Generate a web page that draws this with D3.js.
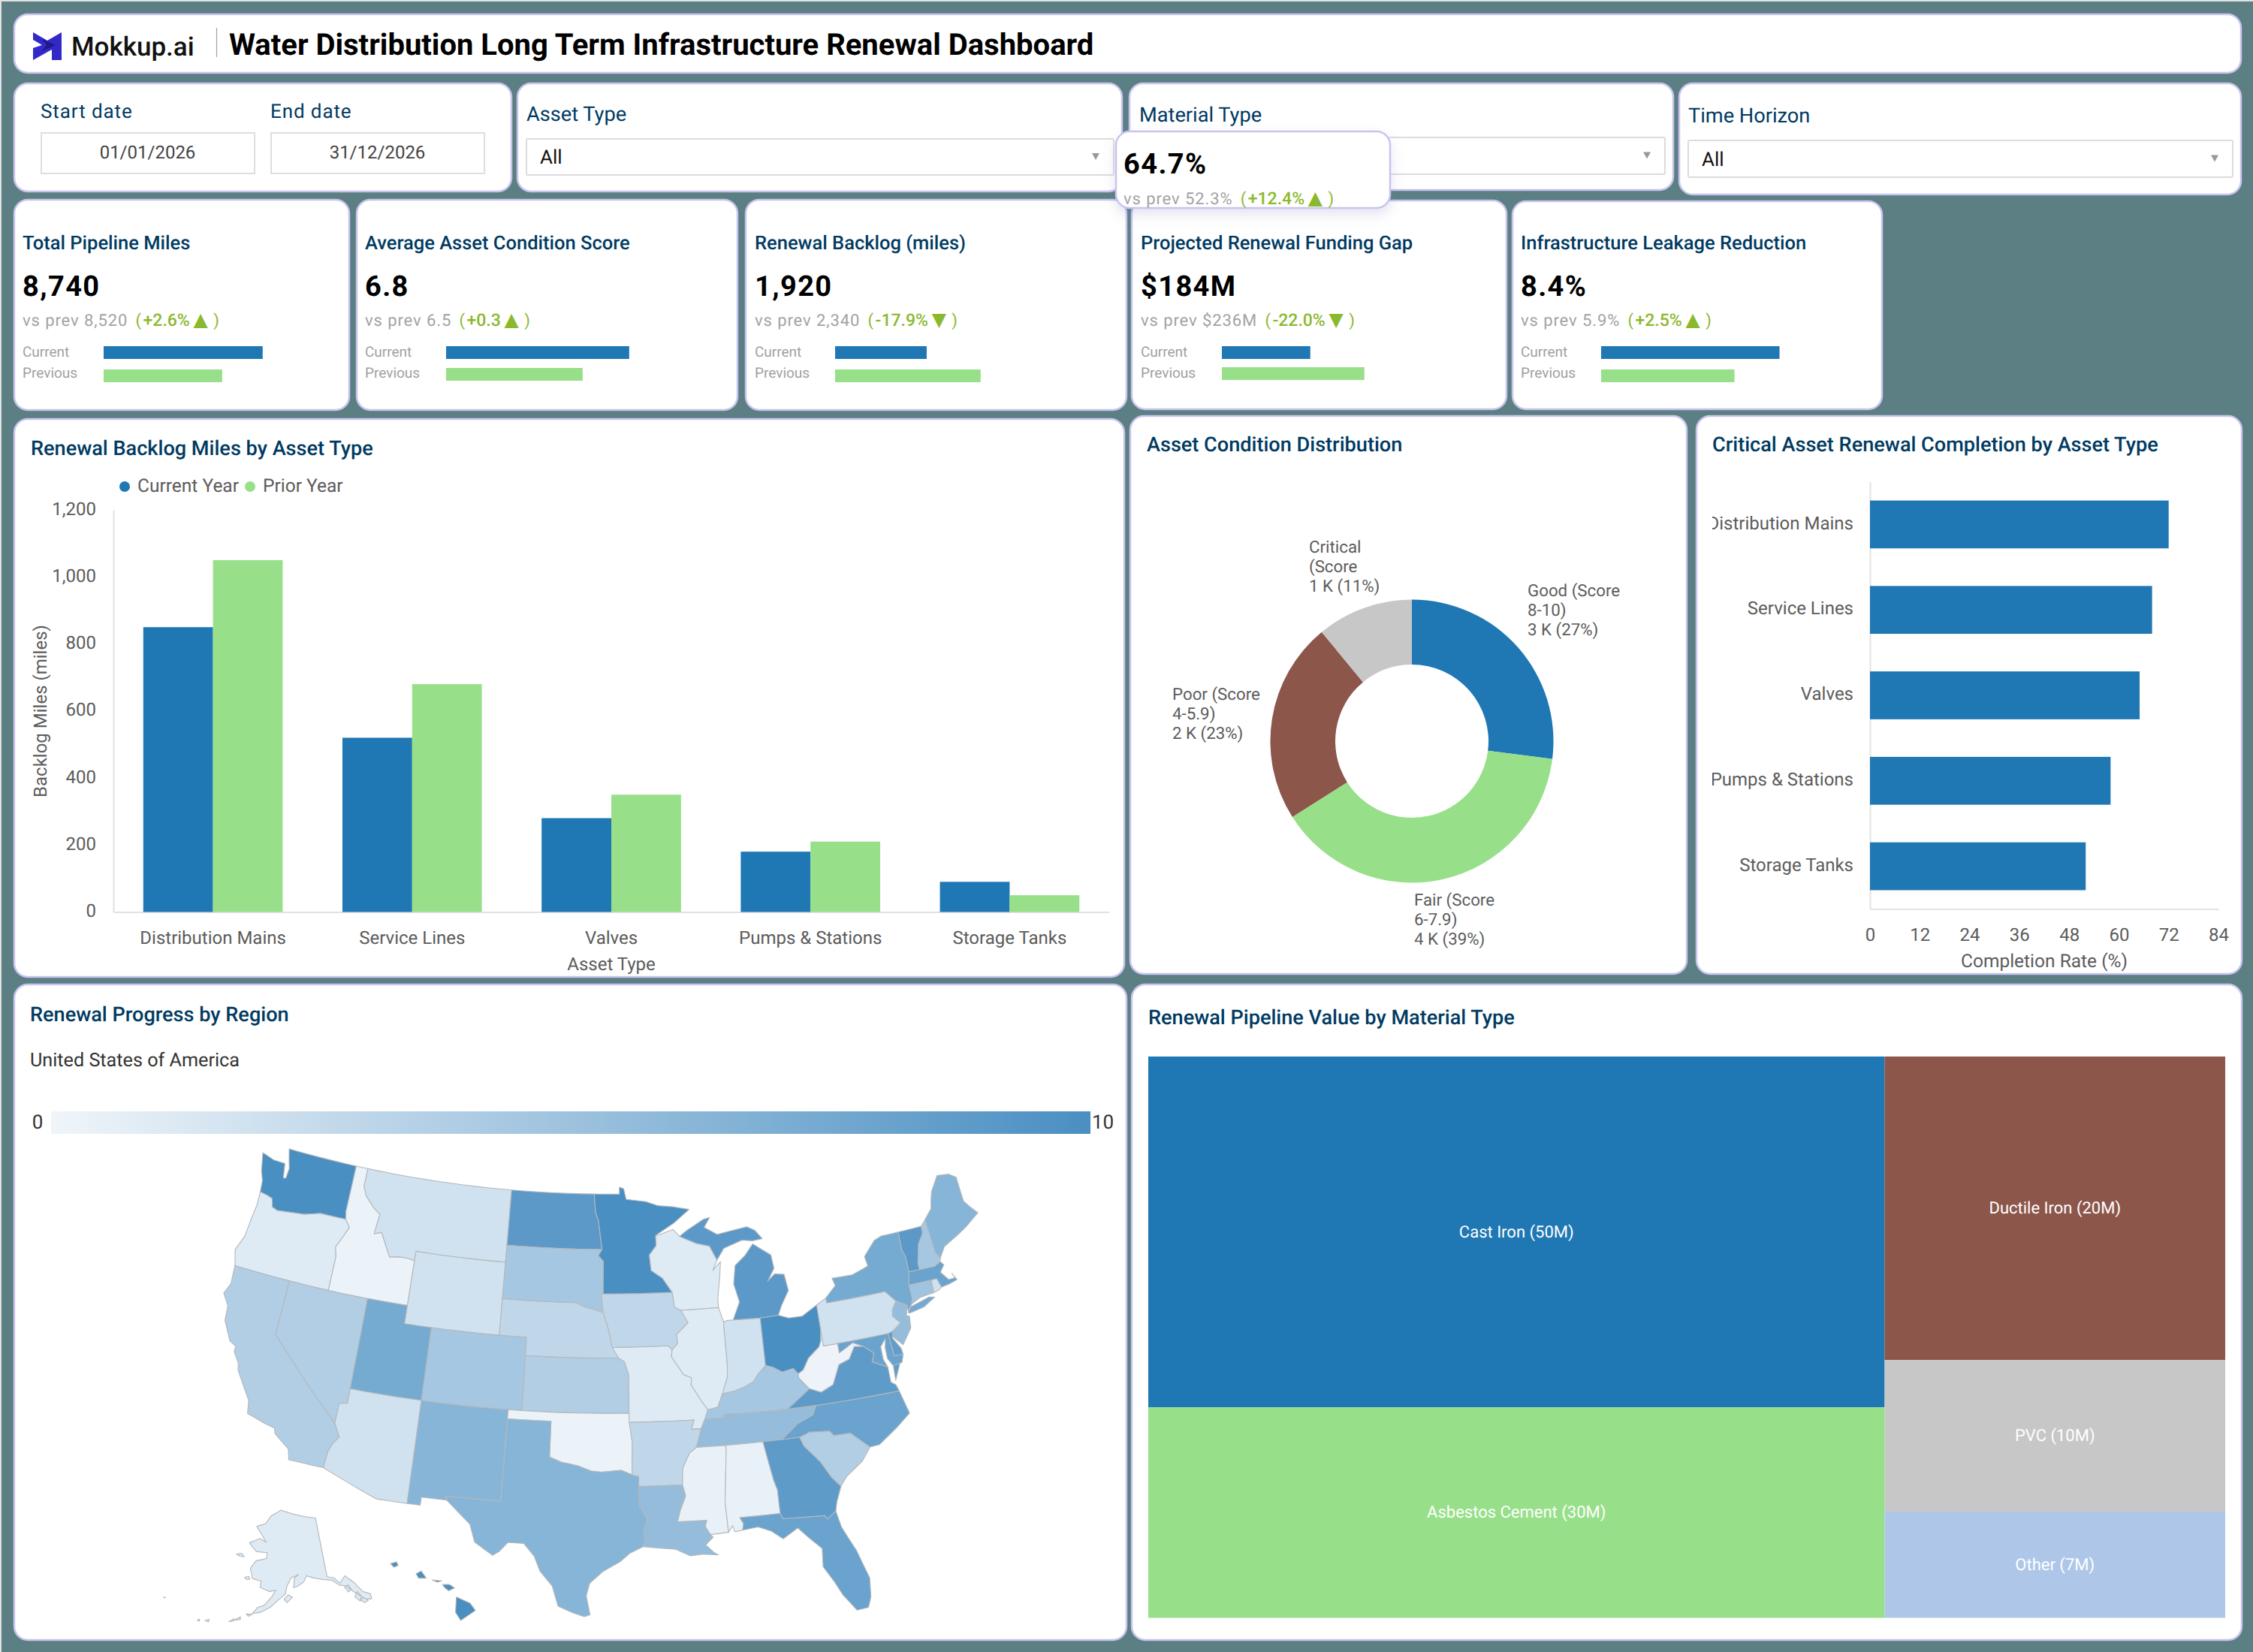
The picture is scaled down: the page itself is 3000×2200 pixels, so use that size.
<!DOCTYPE html>
<html>
<head>
<meta charset="utf-8">
<title>Water Distribution Long Term Infrastructure Renewal Dashboard</title>
<script src="https://cdn.jsdelivr.net/npm/d3@7/dist/d3.min.js"></script>
<style>
  html, body { margin: 0; padding: 0; background: #dfe3e3; }
  svg { display: block; }
  text { font-family: Roboto, sans-serif; text-rendering: geometricPrecision; }
</style>
</head>
<body>
<div id="chart"></div>
<script>
// ---- KPI values ----
const kpiTitles = ["Total Pipeline Miles", "Average Asset Condition Score", "Renewal Backlog (miles)", "Projected Renewal Funding Gap", "Infrastructure Leakage Reduction"];
const kpiCurrent = [8740, 6.8, 1920, 184, 8.4];
const kpiPrevious = [8520, 6.5, 2340, 236, 5.9];
const kpiCurrentText = ["8,740", "6.8", "1,920", "$184M", "8.4%"];
const kpiPreviousText = ["8,520", "6.5", "2,340", "$236M", "5.9%"];
const kpiDelta = ["+2.6%", "+0.3", "-17.9%", "-22.0%", "+2.5%"];
const kpiArrow = ["▲", "▲", "▼", "▼", "▲"];
// each bullet has its own truncated value axis
const kpiAxisMin = [7876, 5.62, 1207, 99, -1.5];
const kpiAxisMax = [8896, 6.83, 2669, 279.5, 8.92];

// ---- Critical completion popover ----
const popValue = "64.7%";
const popPrevious = "52.3%";
const popDelta = "+12.4%";

// ---- Renewal backlog by asset type ----
const assetTypes = ["Distribution Mains", "Service Lines", "Valves", "Pumps & Stations", "Storage Tanks"];
const backlogCurrent = [850, 520, 280, 180, 90];
const backlogPrior = [1050, 680, 350, 210, 50];
const backlogTicks = [0, 200, 400, 600, 800, 1000, 1200];

// ---- Condition distribution ----
const conditionNames = ["Good (Score", "Fair (Score", "Poor (Score", "Critical"];
const conditionSecond = ["8-10)", "6-7.9)", "4-5.9)", "(Score"];
const conditionShare = [27, 39, 23, 11];
const conditionAmount = ["3 K", "4 K", "2 K", "1 K"];

// ---- Completion by asset type ----
const completionRate = [72, 68, 65, 58, 52];
const completionTicks = [0, 12, 24, 36, 48, 60, 72, 84];

// ---- Pipeline value by material ----
const materials = ["Cast Iron", "Asbestos Cement", "Ductile Iron", "PVC", "Other"];
const materialValue = [50, 30, 20, 10, 7];
const materialColumn = [0, 0, 1, 1, 1];

// ---- Renewal progress per state (0-10 scale) ----
const stateCodes = ["WA","OR","CA","NV","ID","MT","WY","UT","AZ","CO","NM","ND","SD","NE","KS","OK","TX","MN","IA","MO","AR","LA","WI","IL","IN","MI","OH","KY","TN","MS","AL","GA","FL","SC","NC","VA","WV","PA","NY","NJ","DE","MD","CT","RI","MA","VT","NH","ME","AK","HI"];
const stateProgress = [10,1.1,3.8,3.8,0.3,1.9,1.9,7.4,1.9,4.5,6.3,9.0,4.5,2.9,3.8,0.3,6.3,10,2.9,1.1,2.9,5.5,1.1,1.1,1.9,9.0,10,4.5,5.5,0.4,0.4,8.8,8.0,3.8,8.0,8.8,0.2,1.9,7.4,5.5,8.5,8.0,4.8,1.9,8.0,9.0,4.5,6.3,1.1,10];

// State outlines as [longitude, latitude] rings
const stateOutlines = {
  WA: [[[-124.73,48.38],[-123.7,48.17],[-122.75,48.15],[-122.55,47.35],[-122.35,47.4],[-122.3,47.95],[-122.5,48.4],[-122.75,49],[-117.03,49],[-117.04,46.42],[-116.92,46],[-118.98,46],[-119.3,45.93],[-120.2,45.73],[-121.2,45.65],[-122.3,45.55],[-122.75,45.65],[-122.95,46.1],[-123.4,46.2],[-124,46.27],[-124.1,46.9],[-124.4,47.4]]],
  OR: [[[-124,46.27],[-123.4,46.2],[-122.95,46.1],[-122.75,45.65],[-122.3,45.55],[-121.2,45.65],[-120.2,45.73],[-119.3,45.93],[-118.98,46],[-116.92,46],[-116.5,45.6],[-116.85,45],[-117.22,44.4],[-117.03,43.9],[-117.03,42],[-124.21,42],[-124.4,42.5],[-124.55,42.84],[-124.15,43.7],[-124.05,44.8],[-123.95,45.5]]],
  CA: [[[-124.21,42],[-120,42],[-120,39],[-114.63,35],[-114.15,34.3],[-114.5,33.9],[-114.72,33.4],[-114.8,32.5],[-117.12,32.53],[-117.3,33.1],[-118.4,33.75],[-118.5,34.03],[-119.2,34.15],[-120.5,34.45],[-120.65,35.15],[-121.9,36.6],[-122,36.95],[-122.5,37.5],[-122.5,37.8],[-123,38],[-123.75,39],[-123.85,39.8],[-124.4,40.4],[-124.1,41]]],
  NV: [[[-120,42],[-114.05,42],[-114.05,36.2],[-114.6,36.1],[-114.63,35],[-120,39]]],
  ID: [[[-117.03,49],[-116.05,49],[-116.05,48],[-115.72,47.5],[-114.95,46.95],[-114.35,46.65],[-114.5,45.55],[-113.95,45.7],[-113.45,45.05],[-113,44.45],[-112.3,44.55],[-111.5,44.55],[-111.05,44.47],[-111.05,42],[-117.03,42],[-117.03,43.9],[-117.22,44.4],[-116.85,45],[-116.5,45.6],[-116.92,46],[-117.04,46.42]]],
  MT: [[[-116.05,49],[-104.05,49],[-104.05,45],[-111.05,45],[-111.05,44.47],[-111.5,44.55],[-112.3,44.55],[-113,44.45],[-113.45,45.05],[-113.95,45.7],[-114.5,45.55],[-114.35,46.65],[-114.95,46.95],[-115.72,47.5],[-116.05,48]]],
  WY: [[[-111.05,45],[-104.05,45],[-104.05,41],[-111.05,41]]],
  UT: [[[-114.05,42],[-111.05,42],[-111.05,41],[-109.05,41],[-109.05,37],[-114.05,37]]],
  AZ: [[[-114.05,37],[-109.05,37],[-109.05,31.33],[-111.07,31.33],[-114.8,32.5],[-114.72,33.4],[-114.5,33.9],[-114.15,34.3],[-114.63,35],[-114.6,36.1],[-114.05,36.2]]],
  CO: [[[-109.05,41],[-102.05,41],[-102.05,37],[-109.05,37]]],
  NM: [[[-109.05,37],[-103,37],[-103.05,32],[-106.62,32],[-106.53,31.78],[-108.2,31.78],[-108.2,31.33],[-109.05,31.33]]],
  ND: [[[-104.05,49],[-97.23,49],[-97.1,48],[-96.85,47.5],[-96.56,45.94],[-104.05,45.94]]],
  SD: [[[-104.05,45.94],[-96.56,45.94],[-96.85,45.6],[-96.45,45.3],[-96.45,43.5],[-96.6,43.5],[-96.45,42.5],[-97.9,42.8],[-98.5,43],[-104.05,43]]],
  NE: [[[-104.05,43],[-98.5,43],[-97.9,42.8],[-96.45,42.5],[-96.1,41.7],[-95.88,41],[-95.31,40],[-102.05,40],[-102.05,41],[-104.05,41]]],
  KS: [[[-102.05,40],[-95.31,40],[-94.9,39.8],[-94.61,39.1],[-94.62,37],[-102.04,37]]],
  OK: [[[-103,37],[-94.62,37],[-94.43,35.4],[-94.48,33.64],[-95.2,33.9],[-96.5,33.8],[-97.2,33.85],[-98.1,34.13],[-99.2,34.3],[-100,34.56],[-100,36.5],[-103,36.5]]],
  TX: [[[-103,36.5],[-100,36.5],[-100,34.56],[-99.2,34.3],[-98.1,34.13],[-97.2,33.85],[-96.5,33.8],[-95.2,33.9],[-94.48,33.64],[-94.04,33.55],[-94.04,33],[-94.04,31.99],[-93.55,31.2],[-93.8,30.5],[-93.7,30.1],[-93.85,29.7],[-94.7,29.35],[-95.3,28.9],[-96.4,28.35],[-97.2,27.7],[-97.4,27],[-97.15,25.96],[-97.5,25.85],[-98.2,26.06],[-99.1,26.4],[-99.5,27.5],[-100.3,28.3],[-100.7,29.1],[-101.4,29.77],[-102.4,29.77],[-102.9,29.25],[-103.3,29],[-104.5,29.65],[-104.9,30.6],[-106.53,31.78],[-106.62,32],[-103.05,32]]],
  MN: [[[-97.23,49],[-95.15,49],[-95.15,49.38],[-94.8,49.3],[-94.6,48.7],[-93,48.55],[-92,48.3],[-90.8,48.2],[-89.5,48],[-90.8,47.3],[-92.1,46.75],[-92.29,46.66],[-92.29,46.1],[-92.85,45.6],[-92.75,44.75],[-91.9,44.3],[-91.2,43.5],[-96.45,43.5],[-96.45,45.3],[-96.85,45.6],[-96.56,45.94],[-96.85,47.5],[-97.1,48]]],
  IA: [[[-96.6,43.5],[-91.2,43.5],[-91.1,42.7],[-90.64,42.5],[-90.15,41.8],[-91.05,41.2],[-91,40.7],[-91.42,40.38],[-91.72,40.6],[-95.77,40.58],[-95.88,41],[-96.1,41.7],[-96.45,42.5]]],
  MO: [[[-95.77,40.58],[-91.72,40.6],[-91.42,40.38],[-91.5,40],[-90.7,39],[-90.15,38.8],[-90.2,38.4],[-89.55,37.5],[-89.15,37],[-89.4,36.5],[-89.7,36],[-90.37,36],[-90.15,36.5],[-94.62,36.5],[-94.62,37],[-94.61,39.1],[-94.9,39.8],[-95.31,40]]],
  AR: [[[-94.62,36.5],[-90.15,36.5],[-90.37,36],[-89.7,36],[-90.1,35],[-90.6,34.7],[-91.1,33.9],[-91.17,33],[-94.04,33],[-94.04,33.55],[-94.48,33.64],[-94.43,35.4]]],
  LA: [[[-94.04,33],[-91.17,33],[-91,32.4],[-91.4,31.6],[-91.6,31],[-89.73,31],[-89.85,30.65],[-89.55,30.2],[-89.4,30.05],[-89.9,29.65],[-89.4,29.2],[-89.15,29.05],[-90.1,29.15],[-90.9,29.1],[-91.8,29.5],[-92.3,29.55],[-93.85,29.7],[-93.7,30.1],[-93.8,30.5],[-93.55,31.2],[-94.04,31.99]]],
  WI: [[[-92.29,46.66],[-92,46.7],[-90.9,46.95],[-90.4,46.55],[-89.1,46.1],[-88.1,45.9],[-87.6,45.1],[-88,44.55],[-87.35,45],[-87.5,44.2],[-87.8,43],[-87.8,42.5],[-90.64,42.5],[-91.1,42.7],[-91.2,43.5],[-91.9,44.3],[-92.75,44.75],[-92.85,45.6],[-92.29,46.1]]],
  IL: [[[-90.64,42.5],[-87.8,42.5],[-87.53,41.7],[-87.53,39.35],[-87.6,38.7],[-88.05,37.8],[-88.45,37.1],[-89.15,37],[-89.55,37.5],[-90.2,38.4],[-90.15,38.8],[-90.7,39],[-91.5,40],[-91.42,40.38],[-91,40.7],[-91.05,41.2],[-90.15,41.8]]],
  IN: [[[-87.53,41.7],[-87.2,41.76],[-86.8,41.76],[-84.8,41.7],[-84.82,39.1],[-85.4,38.7],[-85.8,38.3],[-86.5,38.05],[-87.2,37.9],[-88.05,37.8],[-87.6,38.7],[-87.53,39.35]]],
  MI: [[[-90.4,46.55],[-89.8,46.85],[-88.4,47.4],[-87.9,47.47],[-88.4,46.95],[-87.4,46.5],[-86.1,46.65],[-85,46.75],[-84.4,46.5],[-83.9,46],[-84.7,45.95],[-85.5,46.05],[-86.4,45.85],[-87,45.7],[-87.6,45.1],[-88.1,45.9],[-89.1,46.1]],
       [[-86.8,41.76],[-84.8,41.7],[-83.45,41.73],[-83.1,42.25],[-82.45,43],[-82.6,43.9],[-83.3,44],[-83.9,43.65],[-83.3,44.3],[-83.4,45.05],[-84.7,45.78],[-85.4,45.2],[-86.25,44.7],[-86.5,43.7],[-86.2,42.7]]],
  OH: [[[-84.8,41.7],[-83.45,41.73],[-82.7,41.5],[-81.7,41.5],[-80.52,41.98],[-80.52,40.64],[-80.65,40],[-80.85,39.7],[-81.7,39.2],[-82.2,38.6],[-82.6,38.42],[-82.9,38.75],[-83.7,38.63],[-84.3,38.95],[-84.82,39.1]]],
  KY: [[[-89.15,37],[-88.45,37.1],[-88.05,37.8],[-87.2,37.9],[-86.5,38.05],[-85.8,38.3],[-85.4,38.7],[-84.82,39.1],[-84.3,38.95],[-83.7,38.63],[-82.9,38.75],[-82.6,38.42],[-82.6,38.2],[-81.97,37.54],[-83.67,36.6],[-88.05,36.68],[-88.07,36.5],[-89.4,36.5]]],
  TN: [[[-89.4,36.5],[-88.07,36.5],[-88.05,36.68],[-83.67,36.6],[-81.68,36.59],[-82,36.1],[-83.1,35.75],[-84.3,35],[-85.6,35],[-88.2,35],[-90.1,35],[-89.7,36]]],
  MS: [[[-90.1,35],[-88.2,35],[-88.1,34.9],[-88.47,31.9],[-88.4,30.25],[-89.55,30.2],[-89.85,30.65],[-89.73,31],[-91.6,31],[-91.4,31.6],[-91,32.4],[-91.17,33],[-91.1,33.9],[-90.6,34.7]]],
  AL: [[[-88.2,35],[-85.6,35],[-85.18,32.87],[-85,32.3],[-85,31],[-87.6,31],[-87.4,30.65],[-87.5,30.3],[-88,30.25],[-88.1,30.6],[-88.4,30.25],[-88.47,31.9],[-88.1,34.9]]],
  GA: [[[-85.6,35],[-84.3,35],[-83.1,35],[-82.9,34.5],[-81.95,33.5],[-81.4,32.6],[-80.87,32.03],[-81.3,31.2],[-81.45,30.72],[-82.05,30.36],[-82.2,30.57],[-84.86,30.7],[-85,31],[-85,32.3],[-85.18,32.87]]],
  FL: [[[-87.6,31],[-85,31],[-84.86,30.7],[-82.2,30.57],[-82.05,30.36],[-81.45,30.72],[-81.25,29.8],[-80.55,28.4],[-80.03,26.8],[-80.15,25.75],[-80.4,25.2],[-81.1,25.15],[-81.8,26.1],[-82.2,26.9],[-82.75,27.8],[-82.65,28.8],[-83.4,29.5],[-84,30.1],[-85,29.6],[-85.7,30.1],[-86.5,30.4],[-87.5,30.3],[-87.4,30.65]]],
  SC: [[[-83.1,35],[-82.4,35.2],[-81.05,35.1],[-80.8,34.82],[-79.68,34.8],[-78.55,33.86],[-79.2,33.2],[-80.4,32.5],[-80.87,32.03],[-81.4,32.6],[-81.95,33.5],[-82.9,34.5]]],
  NC: [[[-81.68,36.59],[-75.87,36.55],[-75.5,35.25],[-76.5,34.65],[-77.9,33.9],[-78.55,33.86],[-79.68,34.8],[-80.8,34.82],[-81.05,35.1],[-82.4,35.2],[-83.1,35],[-84.3,35],[-83.1,35.75],[-82,36.1]]],
  VA: [[[-83.67,36.6],[-81.97,37.54],[-81.2,37.25],[-80.3,37.55],[-79.65,38.58],[-78.87,38.77],[-78.35,39.4],[-77.73,39.32],[-77.05,38.85],[-77.3,38.4],[-76.3,37.95],[-76.3,37.1],[-76,36.92],[-75.87,36.55],[-81.68,36.59]],
       [[-75.9,37.95],[-75.4,38.03],[-75.95,37.15]]],
  WV: [[[-80.52,40.64],[-80.52,39.72],[-79.48,39.72],[-79.48,39.2],[-78.4,39.62],[-77.73,39.32],[-78.35,39.4],[-78.87,38.77],[-79.65,38.58],[-80.3,37.55],[-81.2,37.25],[-81.97,37.54],[-82.6,38.2],[-82.6,38.42],[-82.2,38.6],[-81.7,39.2],[-80.85,39.7],[-80.65,40]]],
  PA: [[[-80.52,41.98],[-79.76,42.27],[-79.76,42],[-75.35,42],[-74.7,41.36],[-75.1,40.95],[-75.2,40.6],[-74.72,40.15],[-75.4,39.8],[-75.79,39.72],[-80.52,39.72],[-80.52,40.64]]],
  NY: [[[-79.76,42.27],[-78.9,42.85],[-79.05,43.27],[-77.5,43.25],[-76.2,43.55],[-76.3,44.1],[-75.3,44.85],[-74.7,45],[-73.35,45],[-73.4,44],[-73.25,43.6],[-73.27,42.75],[-73.5,42.05],[-73.5,41.3],[-73.65,41],[-74,40.7],[-74,41],[-74.7,41.36],[-75.35,42],[-79.76,42]],
       [[-74.03,40.6],[-73.75,40.87],[-72.3,41.15],[-71.87,41.07],[-72.8,40.7],[-73.9,40.55]]],
  NJ: [[[-74.7,41.36],[-74,41],[-74.2,40.45],[-74,40.4],[-74.1,39.75],[-74.9,38.95],[-75.5,39.5],[-75.4,39.8],[-74.72,40.15],[-75.2,40.6],[-75.1,40.95]]],
  DE: [[[-75.79,39.72],[-75.4,39.8],[-75.55,39.45],[-75.1,38.8],[-75.05,38.45],[-75.7,38.46]]],
  MD: [[[-79.48,39.72],[-75.79,39.72],[-75.7,38.46],[-75.05,38.45],[-75.25,38.03],[-75.9,37.95],[-76.2,38.4],[-76.2,39],[-76.05,39.5],[-76.5,39.1],[-76.5,38.4],[-76.3,37.95],[-77.3,38.4],[-77.05,38.85],[-77.73,39.32],[-78.4,39.62],[-79.48,39.2]]],
  CT: [[[-73.5,42.05],[-71.8,42.02],[-71.86,41.32],[-72.9,41.25],[-73.65,41],[-73.5,41.3]]],
  RI: [[[-71.8,42.02],[-71.38,42.02],[-71.2,41.5],[-71.5,41.37],[-71.86,41.32]]],
  MA: [[[-73.5,42.05],[-73.27,42.75],[-71.3,42.7],[-70.82,42.87],[-70.6,42.65],[-71,42.3],[-70.55,41.8],[-70.05,41.8],[-70.2,42.07],[-69.95,41.67],[-70.65,41.55],[-71.2,41.5],[-71.38,42.02],[-71.8,42.02]]],
  VT: [[[-73.35,45],[-71.5,45],[-71.55,44.6],[-72.05,44.1],[-72.45,43.1],[-72.46,42.73],[-73.27,42.75],[-73.25,43.6],[-73.4,44]]],
  NH: [[[-71.5,45],[-71.08,45.3],[-70.98,43.4],[-70.7,43.07],[-70.82,42.87],[-71.3,42.7],[-72.46,42.73],[-72.45,43.1],[-72.05,44.1],[-71.55,44.6]]],
  ME: [[[-71.08,45.3],[-70.4,45.8],[-70.25,46.2],[-70,46.7],[-69.23,47.46],[-68.3,47.35],[-67.8,47.07],[-67.8,45.7],[-67.45,45.3],[-67,44.85],[-68.2,44.3],[-69,44],[-70.2,43.6],[-70.7,43.07],[-70.98,43.4]]],
  AK: [[[-141,69.65],[-141,60.3],[-139,59.9],[-137.5,58.9],[-135.5,59.8],[-133.4,58.4],[-131.8,56.6],[-130,55.9],[-130.15,55.05],[-131.5,55.3],[-133.2,56.3],[-134.7,57.3],[-136,58.2],[-137.8,58.6],[-139.7,59.6],[-142.5,60],[-145,60.4],[-147.5,60.9],[-148.5,60],[-150.5,59.4],[-151.8,59.2],[-151.4,60.7],[-150,61.2],[-152.5,60.7],[-153.8,59.5],[-154.3,58.2],[-156.5,57.2],[-158.5,56.1],[-161,55.2],[-163.3,54.8],[-162,55.9],[-160.3,56.3],[-158.2,57.8],[-157.2,58.8],[-159,58.5],[-162,59],[-162,60],[-164.8,60.2],[-165.4,61],[-166,61.7],[-164.6,63],[-161,63.6],[-161,64.5],[-165,64.45],[-168.1,65.6],[-164.3,66.55],[-161.8,66.1],[-163.7,67.1],[-166.5,68.35],[-163,69],[-161,70.3],[-156.6,71.35],[-152,70.85],[-148,70.4]],
       [[-154.7,57.4],[-153.4,58.1],[-152.2,57.7],[-153.8,56.9]],
       [[-167.3,60.2],[-166,60.4],[-165.6,60],[-166.7,59.9]],
       [[-171.7,63.4],[-170,63.7],[-168.8,63.3],[-170.3,63.2]],
       [[-136.5,58.1],[-135.3,58.3],[-134.8,57.5],[-135.7,57.2]],
       [[-134.4,56.2],[-133.3,56.9],[-132.6,56],[-133.3,55.3]],
       [[-133.2,55.6],[-132,55.6],[-131.2,55],[-132.4,54.9]],
       [[-164.9,54.6],[-163.3,54.7],[-164.2,54.3]],
       [[-167.8,53.3],[-166.3,54],[-166.2,53.6]],
       [[-169,52.9],[-167.9,53.5],[-168,53.1]],
       [[-175,52.1],[-174,52.4],[-174.1,52]],
       [[-176.9,51.7],[-176.4,52],[-176.3,51.7]],
       [[172.9,52.9],[173.4,52.95],[173.2,52.8]]],
  HI: [[[-155.9,20.25],[-155.1,19.9],[-154.8,19.5],[-155.65,18.95],[-155.95,19.4]],
       [[-156.7,20.95],[-156.3,20.95],[-156,20.75],[-156.35,20.6],[-156.6,20.8]],
       [[-157.3,21.2],[-156.75,21.15],[-157,21.08]],
       [[-158.25,21.55],[-157.95,21.7],[-157.65,21.3],[-158.1,21.3]],
       [[-159.75,22.1],[-159.4,22.2],[-159.3,22],[-159.55,21.9]]]
};

// ---- palette ----
const BLUE = "#1f77b4", GREEN = "#98df8a", BROWN = "#8c564b", GREY = "#c7c7c7", PALE = "#aec7e8";
const NAVY = "#003a62", AXIS_TEXT = "#5c5c5c", UP_GREEN = "#8bb92d";
const conditionColors = [BLUE, GREEN, BROWN, GREY];
const materialColors = [BLUE, GREEN, BROWN, GREY, PALE];

const svg = d3.select("#chart").append("svg").attr("width", 3000).attr("height", 2200);
const defs = svg.append("defs");

function label(parent, x, y, str, opts = {}) {
  return parent.append("text").attr("x", x).attr("y", y).text(str)
    .attr("font-size", opts.size || 24)
    .attr("font-family", opts.family || null)
    .attr("font-weight", opts.weight || 400)
    .attr("fill", opts.color || AXIS_TEXT)
    .attr("text-anchor", opts.anchor || "start")
    .attr("letter-spacing", opts.spacing || null);
}
function card(x0, y0, x1, y1) {
  return svg.append("rect").attr("x", x0).attr("y", y0).attr("width", x1 - x0).attr("height", y1 - y0)
    .attr("rx", 18).attr("fill", "#fff").attr("stroke", "#c8c4ef").attr("stroke-width", 2.5);
}
function heading(x, y, str) {
  label(svg, x, y, str, { size: 27.1, weight: 500, color: NAVY });
}

// page background
svg.append("rect").attr("x", 2).attr("y", 2).attr("width", 2998).attr("height", 2198).attr("fill", "#5b7f82");

// ---- header ----
card(19, 19, 2984, 97);
svg.append("path").attr("fill", "#3329c7")
  .attr("d", "M44,43 L63,54 L82,43 L82,80 L69,80 L69,66 L44,80 L44,64 L56,60 L44,53 Z");
svg.append("path").attr("fill", "#1f1a86").attr("d", "M56,52 L74,60 L56,68 L62,60 Z");
label(svg, 95, 74, "Mokkup.ai", { size: 35, weight: 500, family: "Inter", color: "#111" });
svg.append("line").attr("x1", 288.5).attr("x2", 288.5).attr("y1", 37).attr("y2", 76).attr("stroke", "#9aa3a8").attr("stroke-width", 1.2);
label(svg, 305, 73, "Water Distribution Long Term Infrastructure Renewal Dashboard", { size: 40, weight: 700, color: "#000" });

// ---- filters ----
function dropdown(x0, x1, y0, y1, str) {
  svg.append("rect").attr("x", x0).attr("y", y0).attr("width", x1 - x0).attr("height", y1 - y0)
    .attr("fill", "#fff").attr("stroke", "#dcdcdc").attr("stroke-width", 2).attr("rx", 2);
  if (str) label(svg, x0 + 18, y1 - 15, str, { size: 26, color: "#111" });
  const ax = x1 - 24, ay = (y0 + y1) / 2 - 1;
  svg.append("path").attr("d", `M${ax - 5},${ay - 4} L${ax + 5},${ay - 4} L${ax},${ay + 5} Z`).attr("fill", "#999");
}
function dateBox(x0, x1, str) {
  svg.append("rect").attr("x", x0 + 1).attr("y", 177).attr("width", x1 - x0 - 1).attr("height", 54)
    .attr("fill", "#fff").attr("stroke", "#dedede").attr("stroke-width", 2);
  label(svg, (x0 + x1) / 2, 211, str, { size: 24, color: "#444", anchor: "middle" });
}
card(19, 111, 681, 255);
label(svg, 54, 157, "Start date", { size: 26, color: NAVY, spacing: 0.9 });
label(svg, 360, 157, "End date", { size: 26, color: NAVY, spacing: 0.9 });
dateBox(54, 339, "01/01/2026");
dateBox(360, 645, "31/12/2026");

card(689, 111, 1494, 255);
label(svg, 701, 161, "Asset Type", { size: 27.2, color: NAVY });
dropdown(701, 1483, 185, 233, "All");

card(1504, 111, 2228, 253);
label(svg, 1517, 162, "Material Type", { size: 27.2, color: NAVY });
dropdown(1519, 2217, 183, 232, null);

card(2236, 111, 2984, 259);
label(svg, 2248, 163, "Time Horizon", { size: 27.2, color: NAVY });
dropdown(2248, 2973, 187, 236, "All");

// ---- KPI cards ----
const kpiFrames = [[19,266,465,546,30,138,492],[475,266,982,546,486,594,490],[993,266,1500,546,1005,1112,492],[1507,267,2006,545,1519,1627,489],[2014,268,2506,545,2025,2132,492]];
function comparison(x, y, previous, delta, arrow) {
  const t = svg.append("text").attr("x", x).attr("y", y).attr("font-size", 22);
  t.append("tspan").attr("fill", "#a3a3a3").attr("letter-spacing", 0.9).text(`vs prev ${previous} `);
  t.append("tspan").attr("fill", UP_GREEN).attr("dx", 4).text("( ");
  t.append("tspan").attr("fill", UP_GREEN).attr("font-weight", 500).attr("font-size", 23).attr("dx", -3).text(delta + " ");
  t.append("tspan").attr("fill", UP_GREEN).attr("dx", -1).attr("font-size", 25).attr("font-family", "'DejaVu Sans'").text(arrow);
  t.append("tspan").attr("fill", UP_GREEN).attr("dx", 2).text(" )");
}
kpiFrames.forEach((f, i) => {
  const [x0, y0, x1, y1, tx, bx, prevY] = f;
  card(x0, y0, x1, y1);
  label(svg, tx, 332, kpiTitles[i], { size: 25.5, weight: 500, color: NAVY });
  label(svg, tx, 394, kpiCurrentText[i], { size: 38, weight: 700, color: "#000", spacing: 1.4 });
  comparison(tx, 434, kpiPreviousText[i], kpiDelta[i], kpiArrow[i]);
  label(svg, tx, 475, "Current", { size: 19, color: "#a0a0a0" });
  label(svg, tx, 503, "Previous", { size: 19, color: "#a0a0a0" });
  const w = d3.scaleLinear().domain([kpiAxisMin[i], kpiAxisMax[i]]).range([0, 250]);
  svg.append("rect").attr("x", bx).attr("y", 461).attr("height", 17).attr("width", w(kpiCurrent[i])).attr("fill", BLUE);
  svg.append("rect").attr("x", bx).attr("y", prevY).attr("height", 17).attr("width", w(kpiPrevious[i])).attr("fill", GREEN);
});

// popover that sits over the filter row
defs.append("filter").attr("id", "soft").attr("x", "-10%").attr("y", "-10%").attr("width", "120%").attr("height", "140%")
  .append("feDropShadow").attr("dx", 0).attr("dy", 8).attr("stdDeviation", 8).attr("flood-color", "#8a86c8").attr("flood-opacity", 0.22);
card(1486, 175, 1851, 277).attr("filter", "url(#soft)");
label(svg, 1496, 231, popValue, { size: 38, weight: 700, color: "#000", spacing: 1.4 });
comparison(1496, 272, popPrevious, popDelta, "▲");

// ---- grouped bars: backlog ----
card(19, 558, 1497, 1301);
heading(41, 606, "Renewal Backlog Miles by Asset Type");
svg.append("circle").attr("cx", 166).attr("cy", 648).attr("r", 7).attr("fill", BLUE);
label(svg, 183, 655, "Current Year", { size: 24.5 });
svg.append("circle").attr("cx", 333).attr("cy", 648).attr("r", 7).attr("fill", GREEN);
label(svg, 350, 655, "Prior Year", { size: 24.5 });

const backX = d3.scaleBand().domain(assetTypes).range([151, 1477]).paddingInner(0.3).paddingOuter(0.15);
const backY = d3.scaleLinear().domain([0, 1200]).range([1214.5, 679]);
const backHalf = backX.bandwidth() / 2;

function styleAxis(g) {
  g.selectAll("text").attr("font-size", 24).attr("fill", AXIS_TEXT).attr("font-family", "Roboto");
  g.selectAll(".domain").attr("stroke", "#e2e2e2").attr("stroke-width", 2);
}
svg.append("g").attr("transform", "translate(151,0)")
  .call(d3.axisLeft(backY).tickValues(backlogTicks).tickSize(0).tickPadding(23).tickFormat(d3.format(",")))
  .call(styleAxis)
  .call(g => g.selectAll(".tick text").attr("y", -1.5));
svg.append("g").attr("transform", "translate(0,1214.5)")
  .call(d3.axisBottom(backX).tickSize(0).tickPadding(25))
  .call(styleAxis);
[[backlogCurrent, BLUE, 0], [backlogPrior, GREEN, backHalf]].forEach(([vals, color, off]) => {
  svg.append("g").selectAll("rect").data(vals).join("rect")
    .attr("x", (d, i) => backX(assetTypes[i]) + off)
    .attr("width", backHalf)
    .attr("y", d => backY(d))
    .attr("height", d => backY(0) - backY(d))
    .attr("fill", color);
});
label(svg, 814, 1292, "Asset Type", { size: 24, anchor: "middle" });
label(svg, 0, 0, "Backlog Miles (miles)", { size: 24, anchor: "middle" })
  .attr("transform", "translate(62,947) rotate(-90)");

// ---- donut: condition ----
card(1505, 554, 2246, 1297);
heading(1527, 601, "Asset Condition Distribution");
const arcs = d3.pie().sort(null)(conditionShare);
const arc = d3.arc().innerRadius(102).outerRadius(188.5);
svg.append("g").attr("transform", "translate(1880,987)")
  .selectAll("path").data(arcs).join("path")
  .attr("d", arc).attr("fill", (d, i) => conditionColors[i]);
const conditionSpots = [[2034, 794], [1883, 1206], [1561, 932], [1743, 736]];
conditionSpots.forEach(([x, y], i) => {
  const opts = { size: 22.3, family: "'Liberation Sans'" };
  label(svg, x, y, conditionNames[i], opts);
  label(svg, x, y + 26, conditionSecond[i], opts);
  label(svg, x, y + 52, `${conditionAmount[i]} (${conditionShare[i]}%)`, opts);
});

// ---- horizontal bars: completion ----
card(2259, 554, 2985, 1297);
heading(2280, 601, "Critical Asset Renewal Completion by Asset Type");
const doneX = d3.scaleLinear().domain([0, 84]).range([2490, 2954]);
const doneY = d3.scaleBand().domain(assetTypes).range([641.5, 1210.5]).paddingInner(0.44).paddingOuter(0.22);
// category labels are cut at the panel's text margin
defs.append("clipPath").attr("id", "labelClip").append("rect").attr("x", -210).attr("y", 630).attr("width", 220).attr("height", 600);
svg.append("g").attr("transform", "translate(2490,0)").attr("clip-path", "url(#labelClip)")
  .call(d3.axisLeft(doneY).tickSize(0).tickPadding(22))
  .call(styleAxis)
  .call(g => g.selectAll(".tick text").attr("y", -1.5));
svg.append("g").attr("transform", "translate(0,1210.5)")
  .call(d3.axisBottom(doneX).tickValues(completionTicks).tickSize(0).tickPadding(25))
  .call(styleAxis);
svg.selectAll("rect.done").data(completionRate).join("rect").attr("class", "done")
  .attr("x", doneX(0)).attr("y", (d, i) => doneY(assetTypes[i]))
  .attr("height", doneY.bandwidth()).attr("width", d => doneX(d) - doneX(0)).attr("fill", BLUE);
label(svg, 2722, 1288, "Completion Rate (%)", { size: 24.5, anchor: "middle" });

// ---- choropleth: renewal progress ----
card(19, 1311, 1500, 2184);
heading(40, 1360, "Renewal Progress by Region");
label(svg, 40, 1420, "United States of America", { size: 25.2, color: "#333" });

const shade = d3.scaleLinear().domain([0, 10]).range(["#f0f5fa", "#4a8fc2"]);
const legendStops = d3.range(0, 11);
const grad = defs.append("linearGradient").attr("id", "progressRamp");
grad.selectAll("stop").data(legendStops).join("stop")
  .attr("offset", d => `${d * 10}%`).attr("stop-color", d => shade(d));
svg.append("rect").attr("x", 68).attr("y", 1480).attr("width", 1384).attr("height", 30).attr("fill", "url(#progressRamp)");
label(svg, 50, 1503, "0", { size: 26, color: "#333", anchor: "middle" });
label(svg, 1454, 1503, "10", { size: 26, color: "#333" });

// Subdivide long edges so straight borders follow the conic curve
function densify(ring) {
  const out = [];
  ring.forEach((p, i) => {
    const q = ring[(i + 1) % ring.length];
    const n = Math.max(1, Math.ceil(Math.max(Math.abs(q[0] - p[0]), Math.abs(q[1] - p[1]))));
    for (let k = 0; k < n; k++) out.push([p[0] + (q[0] - p[0]) * k / n, p[1] + (q[1] - p[1]) * k / n]);
  });
  out.push(out[0]);
  return out;
}
// Conic projection stretched to fill a target box, one for each map part
function fittedTransform(base, codes, box) {
  const pts = codes.flatMap(c => stateOutlines[c].flatMap(r => densify(r).map(p => base(p))));
  const xs = d3.extent(pts, p => p[0]), ys = d3.extent(pts, p => p[1]);
  const sx = d3.scaleLinear().domain(xs).range([box[0], box[2]]);
  const sy = d3.scaleLinear().domain(ys).range([box[1], box[3]]);
  return d3.geoTransform({
    point(lon, lat) { const p = base([lon, lat]); this.stream.point(sx(p[0]), sy(p[1])); }
  });
}
const mainlandCodes = stateCodes.filter(c => c !== "AK" && c !== "HI");
const mainlandPath = d3.geoPath(fittedTransform(d3.geoAlbers().scale(1000).translate([0, 0]), mainlandCodes, [298, 1530, 1302, 2153]));
const alaskaPath = d3.geoPath(fittedTransform(d3.geoConicEqualArea().rotate([154, 0]).center([-2, 58.5]).parallels([55, 65]).scale(400).translate([0, 0]), ["AK"], [218, 2011, 495, 2160]));
const hawaiiPath = d3.geoPath(fittedTransform(d3.geoConicEqualArea().rotate([157, 0]).center([-3, 19.9]).parallels([8, 18]).scale(1000).translate([0, 0]), ["HI"], [520, 2080, 633, 2158]));
const pathFor = c => c === "AK" ? alaskaPath : c === "HI" ? hawaiiPath : mainlandPath;

// the map layer renders slightly soft
defs.append("filter").attr("id", "mapSoft").append("feGaussianBlur").attr("stdDeviation", 0.6);
svg.append("g").attr("filter", "url(#mapSoft)").selectAll("path").data(stateCodes).join("path")
  .attr("d", c => pathFor(c)({ type: "MultiPolygon", coordinates: stateOutlines[c].map(r => [densify(r)]) }))
  .attr("fill", (c, i) => shade(stateProgress[i]))
  .attr("stroke", "#b4b8bc").attr("stroke-width", 1.1).attr("stroke-linejoin", "round");

// ---- treemap: pipeline value ----
card(1507, 1311, 2985, 2184);
heading(1529, 1364, "Renewal Pipeline Value by Material Type");
const materialRows = materials.map((m, i) => ({ name: m, value: materialValue[i], column: materialColumn[i], color: materialColors[i] }));
const root = d3.hierarchy({ children: d3.groups(materialRows, d => d.column).map(([, rows]) => ({ children: rows })) })
  .sum(d => d.value || 0);
d3.treemap().tile(d3.treemapSliceDice).size([1434, 747.5])(root);
const cells = svg.append("g").attr("transform", "translate(1529,1407)").selectAll("g").data(root.leaves()).join("g");
cells.append("rect")
  .attr("x", d => d.x0).attr("y", d => d.y0)
  .attr("width", d => d.x1 - d.x0).attr("height", d => d.y1 - d.y0)
  .attr("fill", d => d.data.color);
cells.append("text")
  .attr("x", d => (d.x0 + d.x1) / 2).attr("y", d => (d.y0 + d.y1) / 2 + 7)
  .attr("text-anchor", "middle").attr("fill", "#fff").attr("font-size", 22)
  .attr("font-family", "'Liberation Sans'")
  .text(d => `${d.data.name} (${d.data.value}M)`);
</script>
</body>
</html>
